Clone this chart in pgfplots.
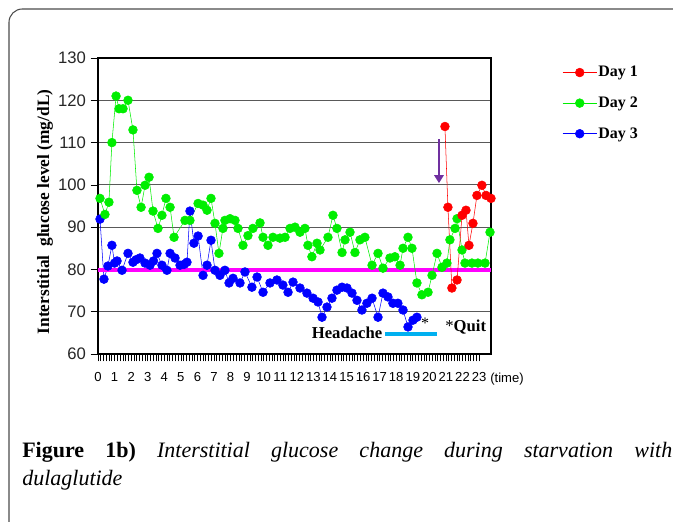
\documentclass[border=0pt]{standalone}
\usepackage{pgfplots}
\pgfplotsset{compat=1.18}
\usepackage{fontspec}
\setmainfont{Liberation Serif}
\newfontfamily\arial{Liberation Sans}
\usetikzlibrary{arrows.meta}
\definecolor{dayone}{HTML}{FF0000}
\definecolor{daytwo}{HTML}{00EE00}
\definecolor{daythree}{HTML}{0000FF}
\definecolor{base}{HTML}{FF00FF}
\definecolor{ache}{HTML}{00B0F0}
\definecolor{pointer}{HTML}{7030A0}

\begin{document}
\begin{tikzpicture}[x=0.75pt,y=0.75pt]
\path[use as bounding box] (0,0) rectangle (673,521);
\draw[black!70, line width=0.8pt, rounded corners=10pt] (9,-10) -- (9,512) -- (700,512);
\begin{axis}[at={(73.5pt,125.25pt)}, anchor=south west, scale only axis,
    width=294.75pt, height=222pt, clip=false,
    xmin=0, xmax=23.72, ymin=60, ymax=130,
    xtick={0,...,23}, minor x tick num=5, ytick={60,70,...,130},
    xtick pos=lower, ytick pos=left, tick align=outside,
    major tick length=5.5pt, minor tick length=5.5pt,
    tick style={black, line width=0.5pt},
    ymajorgrids, major grid style={black!65, line width=0.8pt},
    axis line style={line width=1.4pt},
    /pgf/number format/assume math mode=true,
    xticklabel style={font=\arial\fontsize{9.8}{10}\selectfont, yshift=-5pt, inner xsep=0pt},
    yticklabel style={font=\arial\fontsize{12.5}{14}\selectfont, black!85},
    ylabel={Interstitial\ \ glucose level (mg/dL)},
    every axis y label/.style={at={(rel axis cs:-0.135,0.48)}, rotate=90, anchor=center,
      font=\bfseries\fontsize{13}{15}\selectfont},
    legend style={at={(rel axis cs:1.181,0.982)}, anchor=north west, draw=none, fill=none,
      font=\bfseries\fontsize{12}{14}\selectfont, row sep=9.5pt, inner sep=0pt,
      nodes={inner xsep=1pt}},
    legend cell align=left,
    legend image code/.code={\draw[mark repeat=2, mark phase=2, #1]
      plot coordinates {(0cm,0cm) (0.45cm,0cm) (0.9cm,0cm)};},
    every axis plot/.append style={line width=0.4pt, mark=*, mark size=3.3pt}]

  % Day 3
  \addplot[daythree, mark options={fill=daythree, draw=daythree}, forget plot] coordinates {
    (0.12,91.9) (0.36,77.7) (0.6,80.8) (0.84,85.7) (1.0,81.5) (1.15,82) (1.45,79.8) (1.81,83.8)
    (2.11,81.7) (2.3,82.3) (2.53,82.7) (2.84,81.5) (3.14,81) (3.35,82) (3.56,83.8) (3.86,81)
    (4.16,79.8) (4.35,83.8) (4.65,82.7) (4.95,81) (5.2,81.2) (5.37,81.7) (5.55,93.8) (5.79,86.2)
    (6.04,87.9) (6.34,78.6) (6.58,81) (6.82,86.9) (7.06,79.8) (7.36,78.6) (7.66,79.8) (7.91,76.8)
    (8.15,77.9) (8.57,76.8) (8.87,79.4) (9.29,75.8) (9.6,78.2) (9.96,74.6) (10.38,76.8) (10.8,77.5)
    (11.16,76.3) (11.47,74.6) (11.77,77) (12.19,75.6) (12.61,74.4) (12.98,73.2) (13.28,72.3)
    (13.52,68.7) (13.82,71.1) (14.12,73.2) (14.42,75.1) (14.73,75.8) (15.03,75.6) (15.33,74.4)
    (15.63,72.7) (15.93,70.4) (16.23,72) (16.54,73.2) (16.9,68.7) (17.2,74.4) (17.5,73.5)
    (17.8,72) (18.1,72) (18.41,70.4) (18.71,66.4) (19.01,68) (19.25,68.7)};

  \addplot[base, line width=3pt, mark=none, forget plot] coordinates {(0,79.8) (23.72,79.8)};

  % Day 2
  \addplot[daytwo, mark options={fill=daytwo, draw=daytwo}, forget plot] coordinates {
    (0.12,96.8) (0.42,93.0) (0.66,95.9) (0.84,110) (1.09,121) (1.27,118) (1.51,118) (1.81,120)
    (2.11,113) (2.35,98.7) (2.6,94.7) (2.84,99.9) (3.08,101.8) (3.32,93.8) (3.62,89.7) (3.86,92.8)
    (4.1,96.8) (4.35,94.7) (4.59,87.6) (5.25,91.6) (5.55,91.6) (6.04,95.6) (6.34,95.2) (6.58,94)
    (6.82,96.8) (7.06,90.9) (7.3,83.8) (7.54,89.7) (7.66,91.6) (7.97,92) (8.27,91.6) (8.45,89.7)
    (8.75,85.7) (9.05,88) (9.35,89.7) (9.78,91) (9.96,87.6) (10.26,85.7) (10.56,87.6) (10.98,87.4)
    (11.29,87.6) (11.59,89.7) (11.89,90) (12.19,88.8) (12.49,89.7) (12.67,85.7) (12.91,83)
    (13.22,86.2) (13.4,84.6) (13.88,87.6) (14.18,92.8) (14.42,89.7) (14.73,84) (14.91,87)
    (15.21,88.8) (15.51,84) (15.81,87) (16.11,87.6) (16.54,81) (16.9,83.8) (17.2,80.3)
    (17.62,82.7) (17.92,83) (18.23,81) (18.41,85) (18.71,87.6) (18.95,85) (19.25,76.8)
    (19.55,74) (19.92,74.6) (20.16,78.6) (20.46,83.8) (20.76,80.5) (21.06,81.5) (21.24,87)
    (21.55,89.7) (21.67,92) (21.97,84.6) (22.15,81.5) (22.57,81.5) (22.93,81.5) (23.36,81.5)
    (23.66,88.8)};

  % Day 1
  \addplot[dayone, mark options={fill=dayone, draw=dayone}, forget plot] coordinates {
    (20.94,113.8) (21.12,94.7) (21.36,75.6) (21.67,77.5) (21.97,92.8) (22.21,94) (22.39,85.7)
    (22.63,90.9) (22.87,97.5) (23.17,99.9) (23.42,97.5) (23.72,96.8)};

  \addlegendimage{dayone, mark options={fill=dayone, draw=dayone}}
  \addlegendentry{Day 1}
  \addlegendimage{daytwo, mark options={fill=daytwo, draw=daytwo}}
  \addlegendentry{Day 2}
  \addlegendimage{daythree, mark options={fill=daythree, draw=daythree}}
  \addlegendentry{Day 3}

  \draw[pointer, line width=2.2pt, -{Triangle[length=6pt, width=7pt]}]
    (axis cs:20.58,110.8) -- (axis cs:20.58,100.4);
  \draw[ache, line width=3pt] (axis cs:17.35,64.8) -- (axis cs:20.45,64.8);
  \node[anchor=east, inner sep=1pt, font=\bfseries\fontsize{12.5}{14}\selectfont]
    at (axis cs:17.25,64.9) {Headache};
  \node[inner sep=0pt, font=\fontsize{12}{14}\selectfont] at (axis cs:19.75,67.3) {*};
  \node[anchor=west, inner sep=0pt, font=\bfseries\fontsize{12.5}{14}\selectfont]
    at (axis cs:20.95,66.4) {\mdseries*\bfseries Quit};
\end{axis}
\node[anchor=west, inner sep=0pt, font=\arial\fontsize{9.8}{10}\selectfont] at (490,142) {(time)};
\node[anchor=north west, inner sep=0pt, text width=487.5pt, align=justify,
  font=\fontsize{16.5}{21}\selectfont] at (22,79)
  {\textbf{Figure 1b)} \textit{Interstitial glucose change during starvation with\linebreak dulaglutide}};
\end{tikzpicture}
\end{document}
